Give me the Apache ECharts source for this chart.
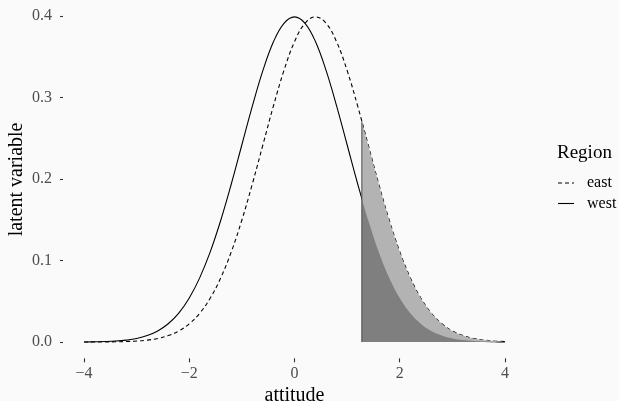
<!DOCTYPE html>
<html>
<head>
<meta charset="utf-8">
<script src="https://cdn.jsdelivr.net/npm/echarts@6/dist/echarts.min.js"></script>
<style>
html,body{margin:0;padding:0;background:#fafafa;}
#chart{width:619px;height:401px;}
</style>
</head>
<body>
<div id="chart"></div>
<script>
// x grid for the density curves
var xs = [-4.0,-3.8,-3.6,-3.4,-3.2,-3.0,-2.8,-2.6,-2.4,-2.2,-2.0,-1.8,-1.6,-1.4,-1.2,-1.0,-0.8,-0.6,-0.4,-0.2,
          0.0,0.2,0.4,0.6,0.8,1.0,1.2,1.4,1.6,1.8,2.0,2.2,2.4,2.6,2.8,3.0,3.2,3.4,3.6,3.8,4.0];
var west = [0.0001,0.0003,0.0006,0.0012,0.0024,0.0044,0.0079,0.0136,0.0224,0.0355,0.0540,0.0790,0.1109,0.1497,0.1942,0.2420,0.2897,0.3332,0.3683,0.3910,
            0.3989,0.3910,0.3683,0.3332,0.2897,0.2420,0.1942,0.1497,0.1109,0.0790,0.0540,0.0355,0.0224,0.0136,0.0079,0.0044,0.0024,0.0012,0.0006,0.0003,0.0001];
var east = [0.0000,0.0001,0.0001,0.0003,0.0006,0.0012,0.0024,0.0044,0.0079,0.0136,0.0224,0.0355,0.0540,0.0790,0.1109,0.1497,0.1942,0.2420,0.2897,0.3332,
            0.3683,0.3910,0.3989,0.3910,0.3683,0.3332,0.2897,0.2420,0.1942,0.1497,0.1109,0.0790,0.0540,0.0355,0.0224,0.0136,0.0079,0.0044,0.0024,0.0012,0.0006];
// shaded tail region (from the cutoff to 4)
var shadeX    = [1.28,1.4,1.6,1.8,2.0,2.2,2.4,2.6,2.8,3.0,3.2,3.4,3.6,3.8,4.0];
var westShade = [0.1758,0.1497,0.1109,0.0790,0.0540,0.0355,0.0224,0.0136,0.0079,0.0044,0.0024,0.0012,0.0006,0.0003,0.0001];
var eastShade = [0.2709,0.2420,0.1942,0.1497,0.1109,0.0790,0.0540,0.0355,0.0224,0.0136,0.0079,0.0044,0.0024,0.0012,0.0006];
var cutoffX = [1.28,1.28];
var cutoffY = [0,0.2709];
var xTicks = [-4,-2,0,2,4];
var yTicks = [0,0.1,0.2,0.3,0.4];
var regions = ['east','west'];
var legendTitle = 'Region';

function zip(a,b){return a.map(function(v,i){return [v,b[i]];});}
var FONT = 'Liberation Serif';
var chart = echarts.init(document.getElementById('chart'), null, {renderer:'canvas'});

var dashStyles = {east:[4,3], west:null};
var legendGraphics = [];
regions.forEach(function(r,i){
  var y = 183 + i*20.5;
  legendGraphics.push({type:'line', shape:{x1:558,y1:y,x2:574,y2:y},
    style:{stroke:'#000', lineWidth:1.1, lineDash:dashStyles[r]}});
  legendGraphics.push({type:'text', x:587, y:y,
    style:{text:r, font:'16px "Liberation Serif"', fill:'#000', textVerticalAlign:'middle', verticalAlign:'middle'}});
});
legendGraphics.push({type:'text', x:557, y:153,
  style:{text:legendTitle, font:'19px "Liberation Serif"', fill:'#000', textVerticalAlign:'middle', verticalAlign:'middle'}});

chart.setOption({
  backgroundColor:'#fafafa',
  animation:false,
  graphic:legendGraphics,
  grid:{left:63, right:93, top:0.6, bottom:42.7, containLabel:false, outerBoundsMode:'none'},
  xAxis:{
    type:'value', min:-4.4, max:4.4,
    name:'attitude', nameLocation:'middle', nameGap:27, nameMoveOverlap:false,
    nameTextStyle:{fontFamily:FONT,fontSize:20,color:'#000'},
    axisLine:{show:false, onZero:false}, splitLine:{show:false},
    axisTick:{show:true, length:4, lineStyle:{color:'#333',width:1.1}, customValues:xTicks},
    axisLabel:{fontFamily:FONT,fontSize:16,color:'#4d4d4d',margin:7, customValues:xTicks,
      formatter:function(v){return String(v).replace('-','\u2212');}}
  },
  yAxis:{
    type:'value', min:-0.01995, max:0.41885,
    name:'latent variable', nameLocation:'middle', nameGap:36, nameMoveOverlap:false,
    nameTextStyle:{fontFamily:FONT,fontSize:20,color:'#000'},
    axisLine:{show:false, onZero:false}, splitLine:{show:false},
    axisTick:{show:true, length:3, lineStyle:{color:'#333',width:1.1}, customValues:yTicks},
    axisLabel:{fontFamily:FONT,fontSize:16,color:'#4d4d4d',margin:11, customValues:yTicks,
      formatter:function(v){return v.toFixed(1);}}
  },
  series:[
    {name:'east', type:'line', data:zip(xs,east), symbol:'none', smooth:0.4, z:2,
     lineStyle:{color:'#000',width:1.1,type:[4,3]}, itemStyle:{color:'#000'}},
    {name:'west', type:'line', data:zip(xs,west), symbol:'none', smooth:0.4, z:2,
     lineStyle:{color:'#000',width:1.1,type:'solid'}, itemStyle:{color:'#000'}},
    {name:'eastShade', type:'line', data:zip(shadeX,eastShade), symbol:'none', smooth:0.4, z:3,
     lineStyle:{width:0}, areaStyle:{color:'#b3b3b3',opacity:1}},
    {name:'westShade', type:'line', data:zip(shadeX,westShade), symbol:'none', smooth:0.4, z:4,
     lineStyle:{width:0}, areaStyle:{color:'#7f7f7f',opacity:1}},
    {name:'cutoff', type:'line', data:zip(cutoffX,cutoffY), symbol:'none', z:5,
     lineStyle:{color:'#4d4d4d',width:1}}
  ]
});
</script>
</body>
</html>
